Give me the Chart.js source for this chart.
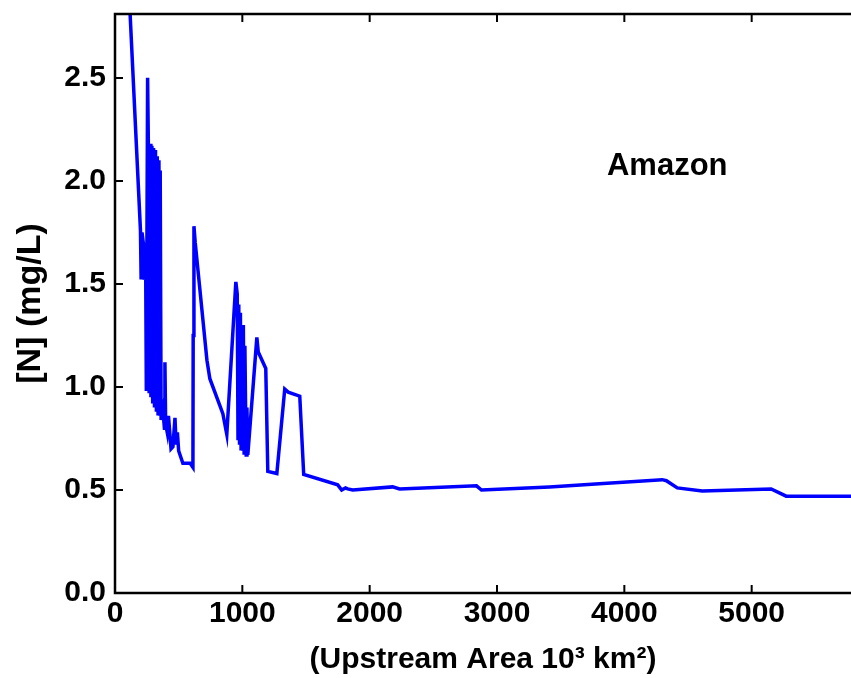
<!DOCTYPE html>
<html lang="en">
<head>
    <meta charset="UTF-8">
    <title>Amazon - [N] vs upstream area</title>
    <script src="https://cdn.jsdelivr.net/npm/chart.js"></script>
    <style>
        body {
            margin: 0;
            background: #fff;
        }
        #chart {
            display: block;
        }
    </style>
</head>
<body>
    <canvas id="chart" width="851" height="678"></canvas>

    <script>
        // values (upstream area in 10^3 km2, N in mg/L)
        const areaKm = [
            100, 200, 205, 212, 222, 228, 240, 246, 256, 262,
            268, 275, 282, 290, 296, 303, 310, 318, 325, 332,
            338, 345, 350, 355, 362, 376, 388, 392, 398, 410,
            420, 440, 455, 471, 480, 490, 500, 533, 590, 612,
            614, 620, 630, 722, 745, 847, 878, 949, 960, 966,
            972, 978, 985, 990, 996, 1002, 1008, 1014, 1020, 1030,
            1036, 1043, 1114, 1125, 1184, 1200, 1271, 1333, 1360, 1451,
            1482, 1749, 1780, 1810, 1827, 1867, 2180, 2235, 2839, 2878,
            3412, 3804, 4298, 4330, 4416, 4612, 5153, 5271, 5800
        ];
        const nitrogen = [
            3.05, 1.76, 1.53, 1.75, 1.70, 1.52, 1.70, 0.98, 2.50, 2.18,
            0.97, 2.18, 0.95, 2.17, 0.92, 2.16, 0.90, 2.15, 0.88, 2.12,
            0.87, 2.10, 0.86, 2.05, 0.84, 0.89, 0.80, 1.12, 0.82, 0.78,
            0.86, 0.70, 0.71, 0.85, 0.72, 0.78, 0.69, 0.63, 0.63, 0.61,
            1.25, 1.78, 1.70, 1.13, 1.04, 0.87, 0.77, 1.51, 1.45, 0.75,
            1.40, 0.72, 1.36, 0.70, 1.30, 0.69, 1.30, 0.68, 1.20, 0.67,
            0.90, 0.67, 1.24, 1.17, 1.09, 0.59, 0.58, 0.99, 0.975, 0.955,
            0.575, 0.525, 0.50, 0.51, 0.505, 0.50, 0.515, 0.505, 0.52, 0.50,
            0.515, 0.53, 0.55, 0.545, 0.51, 0.495, 0.505, 0.47, 0.47
        ];
        const xTickVals = [0, 1000, 2000, 3000, 4000, 5000];
        const yTickVals = [0, 0.5, 1.0, 1.5, 2.0, 2.5];
        const riverName = 'Amazon';
        const riverLabelAt = [4337, 2.07];

        const fontFamily = '"Liberation Sans", Arial, Helvetica, sans-serif';

        // MATLAB-like box with inward ticks, plus the river name
        const boxPlugin = {
            id: 'boxPlugin',
            afterDatasetsDraw(chart) {
                const { ctx, chartArea: a, scales: { x, y } } = chart;
                ctx.save();
                ctx.strokeStyle = '#000';
                ctx.lineWidth = 2.5;
                ctx.beginPath();
                ctx.moveTo(a.right + 5, a.top);
                ctx.lineTo(a.left, a.top);
                ctx.lineTo(a.left, a.bottom);
                ctx.lineTo(a.right + 5, a.bottom);
                ctx.stroke();

                ctx.lineWidth = 2;
                ctx.beginPath();
                xTickVals.forEach(v => {
                    if (v === 0) return;
                    const px = x.getPixelForValue(v);
                    ctx.moveTo(px, a.bottom);
                    ctx.lineTo(px, a.bottom - 8);
                    ctx.moveTo(px, a.top);
                    ctx.lineTo(px, a.top + 8);
                });
                yTickVals.forEach(v => {
                    if (v === 0) return;
                    const py = y.getPixelForValue(v);
                    ctx.moveTo(a.left, py);
                    ctx.lineTo(a.left + 8, py);
                });
                ctx.stroke();

                ctx.fillStyle = '#000';
                ctx.font = 'bold 31px ' + fontFamily;
                ctx.textAlign = 'center';
                ctx.textBaseline = 'middle';
                ctx.fillText(riverName, x.getPixelForValue(riverLabelAt[0]), y.getPixelForValue(riverLabelAt[1]));
                ctx.restore();
            }
        };

        const points = areaKm.map((a, i) => ({ x: a, y: nitrogen[i] }));

        new Chart(document.getElementById('chart'), {
            type: 'line',
            data: {
                datasets: [{
                    data: points,
                    borderColor: '#0000ff',
                    borderWidth: 3.5,
                    pointRadius: 0,
                    tension: 0,
                    fill: false
                }]
            },
            options: {
                responsive: false,
                animation: false,
                layout: { padding: { top: 14, right: 0, left: 0, bottom: 0 } },
                plugins: {
                    legend: { display: false },
                    tooltip: { enabled: false }
                },
                scales: {
                    x: {
                        type: 'linear',
                        min: 0,
                        max: 5780,
                        grid: { display: false, drawTicks: false },
                        border: { display: false },
                        afterBuildTicks: s => { s.ticks = xTickVals.map(v => ({ value: v })); },
                        afterFit: s => {
                            s.height = 85;
                            s.paddingLeft = 0;
                            s.paddingRight = 0;
                        },
                        ticks: {
                            color: '#000',
                            padding: 3,
                            maxRotation: 0,
                            font: { family: fontFamily, size: 30, weight: 'bold' },
                            callback: v => String(v)
                        },
                        title: {
                            display: true,
                            text: '(Upstream Area 10³ km²)',
                            color: '#000',
                            padding: { top: 0, bottom: 0 },
                            font: { family: fontFamily, size: 30, weight: 'bold' }
                        }
                    },
                    y: {
                        min: 0,
                        max: 2.81,
                        grid: { display: false, drawTicks: false },
                        border: { display: false },
                        afterBuildTicks: s => { s.ticks = yTickVals.map(v => ({ value: v })); },
                        afterFit: s => {
                            s.width = 115;
                            s.paddingTop = 0;
                            s.paddingBottom = 0;
                        },
                        ticks: {
                            color: '#000',
                            padding: 9,
                            font: { family: fontFamily, size: 30, weight: 'bold' },
                            callback: v => Number(v).toFixed(1)
                        },
                        title: {
                            display: true,
                            text: '[N] (mg/L)',
                            color: '#000',
                            padding: { top: 10, bottom: 0 },
                            font: { family: fontFamily, size: 34, weight: 'bold' }
                        }
                    }
                }
            },
            plugins: [boxPlugin]
        });
    </script>
</body>
</html>
